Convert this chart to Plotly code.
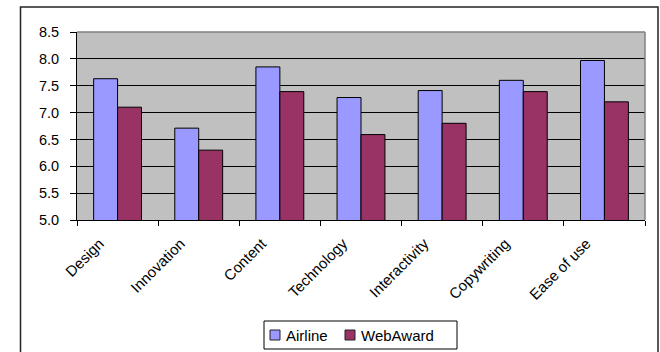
import plotly.graph_objects as go

# Survey scores per website criterion
categories = ["Design", "Innovation", "Content", "Technology",
              "Interactivity", "Copywriting", "Ease of use"]
airline = [7.63, 6.71, 7.85, 7.28, 7.41, 7.60, 7.97]
webaward = [7.10, 6.30, 7.39, 6.59, 6.80, 7.39, 7.20]
y_ticks = [5.0, 5.5, 6.0, 6.5, 7.0, 7.5, 8.0, 8.5]
series = [("Airline", airline, "#9999FF"), ("WebAward", webaward, "#993366")]

W, H = 660, 352
L, R, T, B = 77, 15, 32, 132
pw, ph = W - L - R, H - T - B

def px_x(x):
    return (x - L) / pw

def px_y(y):
    return (H - B - y) / ph

font = "Liberation Sans, Arial, sans-serif"

fig = go.Figure()
for name, vals, color in series:
    fig.add_trace(go.Bar(x=categories, y=vals, name=name, showlegend=False,
                         marker=dict(color=color, line=dict(color="black", width=1))))

# boxed legend below the axis labels
shapes = [
    dict(type="rect", xref="paper", yref="paper",
         x0=px_x(264), x1=px_x(457), y0=px_y(321), y1=px_y(349),
         line=dict(color="black", width=1), fillcolor="white", layer="above"),
]
annotations = []
legend_pos = [270, 345]
for (name, _, color), lx in zip(series, legend_pos):
    shapes.append(dict(type="rect", xref="paper", yref="paper",
                       x0=px_x(lx), x1=px_x(lx + 10), y0=px_y(330), y1=px_y(340),
                       line=dict(color="#222222", width=1), fillcolor=color,
                       layer="above"))
    annotations.append(dict(text=name, xref="paper", yref="paper",
                            x=px_x(lx + 14), y=px_y(335.5),
                            xanchor="left", yanchor="middle", showarrow=False,
                            font=dict(family=font, size=15, color="black")))

shapes += [
    # grey border on the top and right of the plot area
    dict(type="line", xref="paper", yref="paper", x0=0, x1=1, y0=1, y1=1,
         line=dict(color="#808080", width=1.5)),
    dict(type="line", xref="paper", yref="paper", x0=1, x1=1, y0=0, y1=1,
         line=dict(color="#808080", width=1.5)),
    # outer chart frame
    dict(type="rect", xref="paper", yref="paper",
         x0=px_x(20.5), x1=px_x(658), y0=px_y(7), y1=px_y(380),
         line=dict(color="#222222", width=1.5), layer="above"),
]

fig.update_layout(
    width=W, height=H,
    margin=dict(l=L, r=R, t=T, b=B, autoexpand=False),
    paper_bgcolor="white",
    plot_bgcolor="#C0C0C0",
    barmode="group",
    bargap=0.41,
    bargroupgap=0,
    font=dict(family=font, size=13, color="black"),
    showlegend=False,
    xaxis=dict(
        type="category",
        tickson="boundaries",
        ticks="outside", ticklen=5, tickcolor="black", tickwidth=1,
        showline=True, linecolor="black", linewidth=1,
        showgrid=False,
        tickangle=-45,
        ticklabelstandoff=8,
        ticklabelshift=-18,
        tickfont=dict(family=font, size=15),
    ),
    yaxis=dict(
        range=[5, 8.5],
        tickvals=y_ticks,
        tickformat=".1f",
        ticks="outside", ticklen=6, tickcolor="black", tickwidth=1,
        showline=True, linecolor="black", linewidth=1,
        showgrid=True, gridcolor="black", gridwidth=1,
        zeroline=False,
        ticklabelstandoff=8,
        tickfont=dict(family=font, size=14.5),
    ),
    shapes=shapes,
    annotations=annotations,
)

fig.write_html("out.html")
